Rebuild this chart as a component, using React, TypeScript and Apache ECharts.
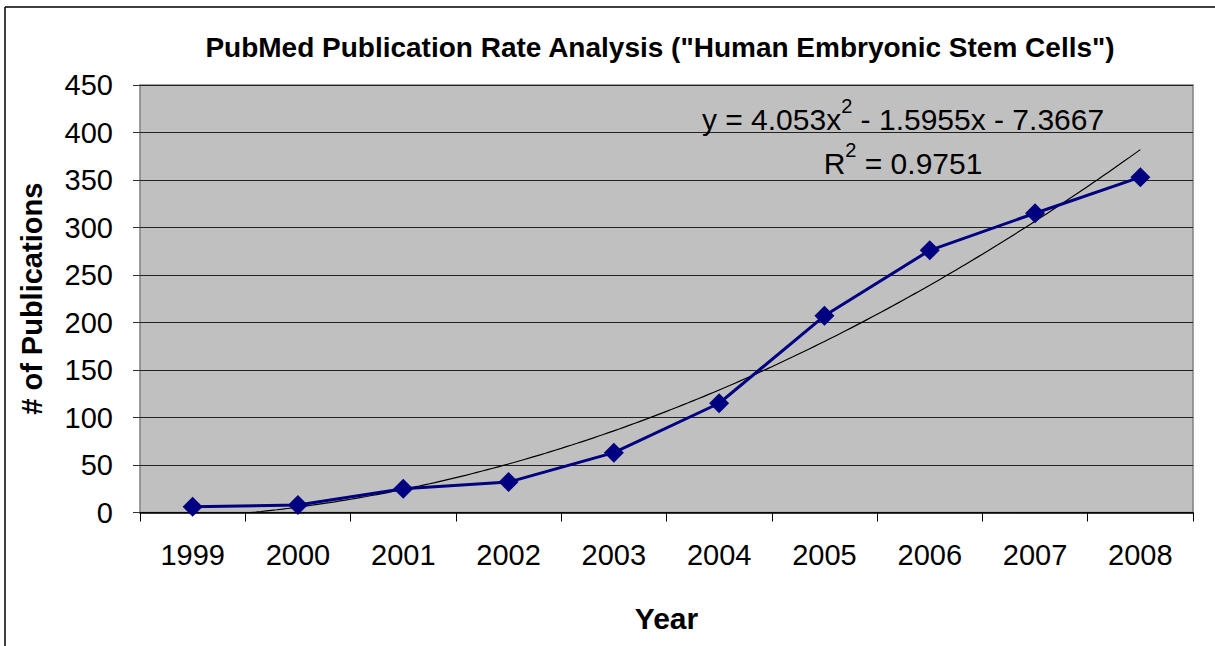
import React, { useEffect, useRef } from "react";
import * as echarts from "echarts";

const years = ["1999", "2000", "2001", "2002", "2003", "2004", "2005", "2006", "2007", "2008"];
const publications = [6, 8, 25, 32, 63, 115, 207, 276, 315, 353];
const yTicks = { min: 0, max: 450, interval: 50 };
// Trendline coefficients as printed on the chart: y = a x^2 + b x + c
const trendA = 4.053;
const trendB = -1.5955;
const trendC = -7.3667;
const titleText = 'PubMed Publication Rate Analysis ("Human Embryonic Stem Cells")';

const FONT = "Arial, 'Liberation Sans', sans-serif";

function trendData(): number[][] {
  const pts: number[][] = [];
  for (let i = 0; i <= 180; i++) {
    const x = 1 + (i * 9) / 180;
    pts.push([x, trendA * x * x + trendB * x + trendC]);
  }
  return pts;
}

export default function App() {
  const ref = useRef<HTMLDivElement>(null);
  useEffect(() => {
    if (!ref.current) return;
    const chart = echarts.init(ref.current, undefined, { renderer: "svg" });
    chart.setOption({
      animation: false,
      backgroundColor: "#ffffff",
      title: {
        text: titleText,
        left: 655,
        top: 28,
        textAlign: "center",
        textStyle: { fontFamily: FONT, fontWeight: "bold", fontSize: 28, color: "#000" },
      },
      grid: {
        left: 140,
        top: 85,
        right: 22,
        bottom: 133.5,
        show: true,
        backgroundColor: "#c0c0c0",
        borderColor: "#808080",
        borderWidth: 1.5,
      },
      xAxis: [
        {
          type: "category",
          data: years,
          boundaryGap: true,
          name: "Year",
          nameLocation: "middle",
          nameGap: 91,
          nameTextStyle: { fontFamily: FONT, fontWeight: "bold", fontSize: 30, color: "#000" },
          axisLine: { show: true, lineStyle: { color: "#000", width: 1.5 } },
          axisTick: { show: true, length: 9, lineStyle: { color: "#000" } },
          axisLabel: { margin: 28, fontFamily: FONT, fontSize: 29, color: "#000" },
          splitLine: { show: false },
        },
        {
          type: "value",
          min: 0.5,
          max: 10.5,
          show: false,
        },
      ],
      yAxis: {
        type: "value",
        min: yTicks.min,
        max: yTicks.max,
        interval: yTicks.interval,
        name: "# of Publications",
        nameLocation: "middle",
        nameGap: 94,
        nameTextStyle: { fontFamily: FONT, fontWeight: "bold", fontSize: 29, color: "#000" },
        axisLine: { show: false },
        axisTick: { show: true, length: 7, lineStyle: { color: "#333" } },
        axisLabel: { margin: 27, fontFamily: FONT, fontSize: 29, color: "#000" },
        splitLine: { show: true, lineStyle: { color: "#222", width: 1 } },
      },
      series: [
        {
          name: "Trend",
          type: "line",
          xAxisIndex: 1,
          data: trendData(),
          symbol: "none",
          clip: true,
          lineStyle: { color: "#000", width: 1.2 },
          z: 2,
        },
        {
          name: "Publications",
          type: "line",
          data: publications,
          symbol: "diamond",
          symbolSize: 20,
          lineStyle: { color: "#000080", width: 3 },
          itemStyle: { color: "#000080" },
          z: 3,
        },
      ],
      graphic: [
        { type: "line", shape: { x1: 5, y1: 7, x2: 1215, y2: 7 }, style: { stroke: "#000", lineWidth: 1.5 } },
        { type: "line", shape: { x1: 5, y1: 7, x2: 5, y2: 646 }, style: { stroke: "#000", lineWidth: 1.5 } },
        {
          type: "text",
          x: 903,
          y: 115,
          z: 10,
          style: {
            text: "{m|y = 4.053x}{s|2}{m| - 1.5955x - 7.3667}",
            align: "center",
            verticalAlign: "middle",
            rich: {
              m: { fontFamily: FONT, fontSize: 30, color: "#000", lineHeight: 38, verticalAlign: "bottom" },
              s: { fontFamily: FONT, fontSize: 20, color: "#000", lineHeight: 14, verticalAlign: "top" },
            },
          },
        },
        {
          type: "text",
          x: 903,
          y: 159,
          z: 10,
          style: {
            text: "{m|R}{s|2}{m| = 0.9751}",
            align: "center",
            verticalAlign: "middle",
            rich: {
              m: { fontFamily: FONT, fontSize: 30, color: "#000", lineHeight: 38, verticalAlign: "bottom" },
              s: { fontFamily: FONT, fontSize: 20, color: "#000", lineHeight: 14, verticalAlign: "top" },
            },
          },
        },
      ],
    });
    return () => chart.dispose();
  }, []);
  return (
    <div
      ref={ref}
      style={{ position: "fixed", left: 0, top: 0, width: 1215, height: 646 }}
    />
  );
}
